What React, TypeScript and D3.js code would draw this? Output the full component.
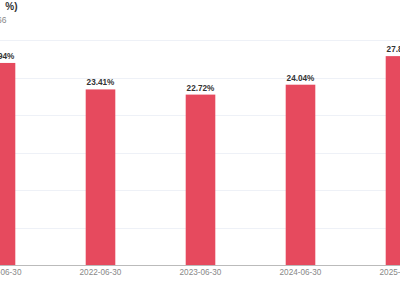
import React from "react";
import * as d3 from "d3";

const categories = ["2021-06-30", "2022-06-30", "2023-06-30", "2024-06-30", "2025-06-30"];
const values = [26.94, 23.41, 22.72, 24.04, 27.85];
const yTicks = [0, 5, 10, 15, 20, 25, 30];
const titleText = "净资产收益率(单位：%)";
const subtitleText = "600066";

const W = 400;
const H = 300;
const FONT = "'Liberation Sans', Arial, 'Noto Sans CJK SC', sans-serif";

export default function App() {
  const x = d3.scaleBand<string>().domain(categories).range([-49.5, 450.5]).padding(0);
  const y = d3.scaleLinear().domain([0, 30]).range([265, 40]);
  const barW = x.bandwidth() * 0.296;

  return (
    <svg
      width={W}
      height={H}
      style={{ position: "absolute", left: 0, top: 0, background: "#fff" }}
      fontFamily={FONT}
    >
      <rect x={0} y={0} width={W} height={H} fill="#fff" />
      {yTicks.slice(1).map((t) => (
        <line key={t} x1={0} x2={W} y1={Math.round(y(t)) + 0.5} y2={Math.round(y(t)) + 0.5} stroke="#e0e6f1" strokeOpacity={0.55} />
      ))}
      {categories.map((c, i) => {
        const cx = (x(c) as number) + x.bandwidth() / 2;
        const top = y(values[i]);
        return (
          <g key={c}>
            <rect x={cx - barW / 2} y={top} width={barW} height={y(0) - top} fill="#e64a5e" />
            <text x={cx} y={top - 4} textAnchor="middle" fontSize={8.2} fontWeight="bold" fill="#333">
              {values[i].toFixed(2)}%
            </text>
            <text x={cx} y={274.5} textAnchor="middle" fontSize={8.2} fill="#888">
              {c}
            </text>
          </g>
        );
      })}
      <line x1={0} x2={W} y1={265.5} y2={265.5} stroke="#bbb" />
      <text x={17.5} y={10} textAnchor="end" fontSize={10} fontWeight="bold" fill="#333">
        {titleText}
      </text>
      <text x={6.5} y={23} textAnchor="end" fontSize={8.5} fill="#888">
        {subtitleText}
      </text>
    </svg>
  );
}
